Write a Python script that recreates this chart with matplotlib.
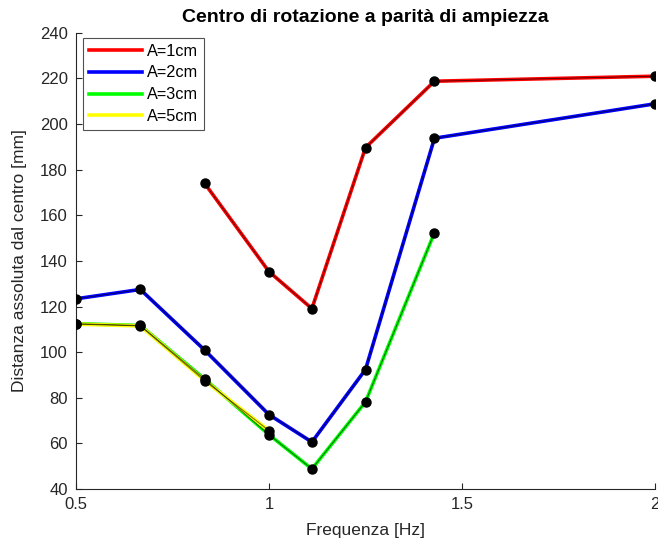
import numpy as np
import matplotlib.pyplot as plt

plt.rcParams['font.family'] = ['Liberation Sans', 'DejaVu Sans']

# frequenze [Hz]
freq = [0.5, 2/3, 0.8333, 1.0, 1.1111, 1.25, 1.4286, 2.0]

# distanza assoluta dal centro [mm]
d_1cm = [174, 135.3, 119.1, 189.7, 218.8, 221.0]          # da 0.833 Hz
d_2cm = [123.4, 127.5, 100.9, 72.6, 60.6, 92.4, 193.8, 208.9]
d_3cm = [112.5, 111.7, 88.2, 63.8, 48.8, 78.2, 152.4]
d_5cm = [112.3, 111.5, 87.5, 65.6]

labels = ['A=1cm', 'A=2cm', 'A=3cm', 'A=5cm']
colors = ['#ff0000', '#0000ff', '#00ff00', '#ffff00']

series = [(freq[2:], d_1cm), (freq, d_2cm), (freq[:7], d_3cm), (freq[:4], d_5cm)]

fig = plt.figure(figsize=(6.58, 5.45), dpi=100)
ax = fig.add_axes([0.1155, 0.1027, 0.88, 0.837])

for (x, y), lab, c in zip(series, labels, colors):
    ax.plot(x, y, color=c, lw=2.6, label=lab, zorder=2)
for x, y in series:
    ax.plot(x, y, 'k-', lw=0.7, alpha=0.6, zorder=3)
    ax.plot(x, y, 'ko', ms=6.5, zorder=4)

ax.set_xlim(0.5, 2)
ax.set_ylim(40, 240)
ax.set_xticks([0.5, 1, 1.5, 2])
ax.set_xticklabels(['0.5', '1', '1.5', '2'])
ax.set_yticks(np.arange(40, 241, 20))

for s in ['top', 'right']:
    ax.spines[s].set_visible(False)
for s in ['left', 'bottom']:
    ax.spines[s].set_color('#262626')
    ax.spines[s].set_linewidth(0.8)
ax.tick_params(direction='in', length=4, width=0.8, colors='#262626',
               labelsize=12, labelcolor='#262626', pad=6)

ax.set_xlabel('Frequenza [Hz]', fontsize=12.5, color='#262626', labelpad=8)
ax.set_ylabel('Distanza assoluta dal centro [mm]', fontsize=12.5, color='#262626',
              labelpad=9)
ax.set_title('Centro di rotazione a parità di ampiezza', fontsize=14,
             fontweight='bold', pad=8)

leg = ax.legend(loc='upper left', bbox_to_anchor=(0.012, 0.989), borderaxespad=0,
                fontsize=11.7, frameon=True, fancybox=False, edgecolor='#262626',
                handlelength=3.3, handletextpad=0.3, borderpad=0.35,
                labelspacing=0.42)
leg.get_frame().set_linewidth(0.8)

fig.savefig('out.png', dpi=100)
